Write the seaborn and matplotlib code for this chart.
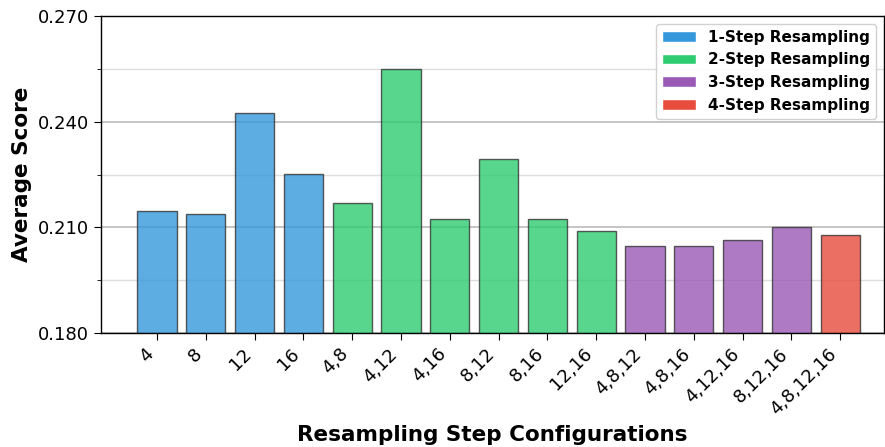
import seaborn as sns
import matplotlib.pyplot as plt
from matplotlib.patches import Patch
from matplotlib.ticker import MultipleLocator
import pandas as pd

configs = ['4', '8', '12', '16', '4,8', '4,12', '4,16', '8,12', '8,16', '12,16',
           '4,8,12', '4,8,16', '4,12,16', '8,12,16', '4,8,12,16']
scores = [0.2146, 0.2138, 0.2425, 0.2251, 0.2169, 0.2550, 0.2124, 0.2294, 0.2124, 0.2090,
          0.2047, 0.2047, 0.2064, 0.2101, 0.2078]
groups = ['1-Step Resampling'] * 4 + ['2-Step Resampling'] * 6 + ['3-Step Resampling'] * 4 + ['4-Step Resampling']
group_names = ['1-Step Resampling', '2-Step Resampling', '3-Step Resampling', '4-Step Resampling']
colors = ['#3498db', '#2ecc71', '#9b59b6', '#e74c3c']

df = pd.DataFrame({'config': configs, 'score': scores, 'group': groups})

sns.set_style('white')
plt.rcParams['font.family'] = ['DejaVu Sans']
plt.rcParams['text.color'] = 'black'
plt.rcParams['axes.labelcolor'] = 'black'
plt.rcParams['xtick.color'] = 'black'
plt.rcParams['ytick.color'] = 'black'

fig = plt.figure(figsize=(8.85, 4.47), dpi=100)
ax = fig.add_axes([0.114, 0.255, 0.885, 0.709])

sns.barplot(data=df, x='config', y='score', hue='group', dodge=False,
            palette=dict(zip(group_names, colors)), alpha=0.8, saturation=1,
            edgecolor='#333333', linewidth=1.0, width=0.8, legend=False, ax=ax)

ax.set_ylim(0.18, 0.27)
ax.set_xlim(-1.15, 14.9)
ax.yaxis.set_major_locator(MultipleLocator(0.03))
ax.yaxis.set_minor_locator(MultipleLocator(0.015))
ax.yaxis.set_major_formatter(plt.FuncFormatter(lambda v, p: f'{v:.3f}'))
ax.grid(axis='y', which='major', color='#bbbbbb', linewidth=1.2)
ax.grid(axis='y', which='minor', color='#dddddd', linewidth=1.0)
ax.set_axisbelow(True)
ax.tick_params(axis='y', which='major', labelsize=13, length=5, left=True)
ax.tick_params(axis='y', which='minor', length=3, left=True)
ax.tick_params(axis='x', labelsize=13, length=5, bottom=True)
plt.setp(ax.get_xticklabels(), rotation=45, ha='right')

for s in ax.spines.values():
    s.set_color('black')
    s.set_linewidth(1.0)

ax.set_ylabel('Average Score', fontsize=15.5, fontweight='bold')
ax.set_xlabel('Resampling Step Configurations', fontsize=15.5, fontweight='bold', labelpad=5)

handles = [Patch(facecolor=c, label=g) for c, g in zip(colors, group_names)]
ax.legend(handles=handles, loc='upper right', prop={'weight': 'bold', 'size': 11},
          frameon=True, framealpha=0.9, borderaxespad=0.5, handlelength=2.2,
          labelspacing=0.5)

fig.savefig('out.png', dpi=100)
